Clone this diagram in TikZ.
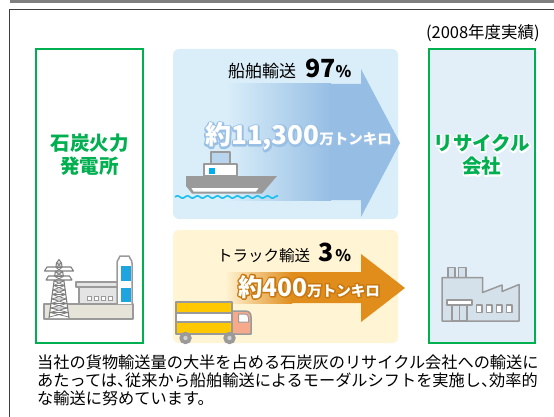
\documentclass[tikz,border=0pt]{standalone}
\usepackage{fontspec}
\setmainfont{Noto Sans CJK JP}
\usetikzlibrary{calc}

\definecolor{ruleGray}{HTML}{808080}
\definecolor{frameGray}{HTML}{404040}
\definecolor{siteGreen}{HTML}{00AF50}
\definecolor{siteFill}{HTML}{E2EEF8}
\definecolor{shipPanel}{HTML}{DAEEF9}
\definecolor{shipBlue}{HTML}{96BEE4}
\definecolor{truckPanel}{HTML}{FFF4D4}
\definecolor{truckOrange}{HTML}{E08D1C}
\definecolor{iconGray}{HTML}{9A9A9A}
\definecolor{pylonGray}{HTML}{7E7E7E}
\definecolor{bldGray}{HTML}{E4E4E4}
\definecolor{baseBeige}{HTML}{E6E3D8}
\definecolor{chimBlue}{HTML}{1EA5E0}
\definecolor{factFill}{HTML}{D4E1EB}
\definecolor{cabinBlue}{HTML}{B9D5EE}
\definecolor{windowCyan}{HTML}{00AEEF}
\definecolor{waveCyan}{HTML}{1CC0EE}
\definecolor{truckYellow}{HTML}{FFC800}
\definecolor{cabSalmon}{HTML}{F5AA8C}
\definecolor{wheelInner}{HTML}{D0D0D0}

% text with an outline: a stroked copy (rgb stroke colour #1, width #2)
% lies under the filled text
\newcommand\outlined[3]{%
  \rlap{\special{pdf:literal direct 1 j 1 J #2 w #1 RG 1 Tr}#3%
    \special{pdf:literal direct 0 Tr}}#3}

\tikzset{
  sitebox/.style={draw=siteGreen, line width=2pt, minimum width=106.5pt,
    minimum height=294.5pt, inner sep=0pt},
  panel/.style={rounded corners=6pt, minimum width=225pt, inner sep=0pt},
  sitelabel/.style={align=center, inner sep=0pt, text=siteGreen,
    font=\fontsize{19.5}{23}\selectfont\bfseries},
  modelabel/.style={anchor=base west, inner sep=0pt},
  amountlabel/.style={anchor=base west, inner sep=0pt, text=white},
  bodytext/.style={anchor=base west, inner sep=0pt,
    font=\fontsize{16.2}{18}\selectfont},
  iconline/.style={draw=iconGray, line width=1.5pt, line join=round},
  thinline/.style={draw=iconGray, line width=0.8pt},
  pylonline/.style={draw=pylonGray, line width=1.1pt, line join=round},
}

\newcommand\bigfig[1]{{\fontsize{25}{25}\selectfont\bfseries #1}}
\newcommand\pct{{\fontsize{16}{16}\selectfont\bfseries\%}}
\newcommand\halfcomma{\makebox[0.5em][l]{、}}

\begin{document}
\begin{tikzpicture}[x=1pt,y=-1pt]
\useasboundingbox (0,0) rectangle (554,417);
\fill[white] (0,0) rectangle (554,417);

% header rule and page frame
\fill[ruleGray] (10,0) rectangle (554,3);
\draw[frameGray, line width=1pt] (9.5,417) -- (9.5,10) -- (554,10);

\node[anchor=east, inner sep=0pt, font=\fontsize{16.5}{16.5}\selectfont] (year) at (540,33) {(2008年度実績)};

% the two sites
\node[sitebox, fill=white] (plant) at (89.5,195.8) {};
\node[sitebox, fill=siteFill] (recycler) at (481.8,195.8) {};
\node[sitelabel] (plantname) at (89.5,155) {石炭火力\\発電所};
\node[sitelabel] (recname) at (481.8,155)
  {\outlined{1 1 1}{3.2}{リサイクル}\\\outlined{1 1 1}{3.2}{会社}};

% ---------- sea transport ----------
\node[panel, fill=shipPanel, minimum height=170pt] (shippanel) at (285.5,134) {};
\shade[left color=shipPanel, right color=shipBlue] (225,84) rectangle (331,200);
\fill[shipBlue] (330,84) -- (361,84) -- (361,69) -- (400,143) -- (361,217)
  -- (361,200) -- (330,200) -- cycle;
\node[modelabel] (shipmode) at (228,78)
  {{\fontsize{17}{17}\selectfont 船舶輸送}\hspace{9pt}\bigfig{97}\pct};
\node[amountlabel] (shipamount) at (205,145)
  {\outlined{0.60 0.75 0.90}{3.4}{{\fontsize{26}{26}\selectfont\bfseries 約11,300}{\fontsize{14.5}{14.5}\selectfont\bfseries 万トンキロ}}};

% ship
\fill[iconGray] (186,176) -- (277,176) -- (262,193.5) -- (192,193.5) -- (186,186) -- cycle;
\fill[white] (191.5,188) -- (258.5,188) -- (256,191.5) -- (193.5,191.5) -- cycle;
\draw[iconline, fill=white] (204,164) rectangle (237,176);
\draw[iconline, fill=cabinBlue] (211,152) rectangle (230,164);
\fill[windowCyan] (208.5,168) rectangle (214.5,174);
\draw[waveCyan, line width=1.6pt] plot[domain=175:278, samples=120]
  (\x, {197+1.1*sin(36*\x)});

% ---------- road transport ----------
\node[panel, fill=truckPanel, minimum height=113pt] (truckpanel) at (285.5,286.5) {};
\shade[left color=truckPanel, right color=truckOrange] (225,272) rectangle (292,303);
\fill[truckOrange] (291,272) -- (361,272) -- (361,254) -- (405,288) -- (361,322)
  -- (361,303) -- (291,303) -- cycle;
\node[modelabel] (truckmode) at (217,261)
  {{\fontsize{15.5}{15.5}\selectfont トラック輸送}\hspace{8pt}\bigfig{3}\hspace{2pt}\pct};
\node[amountlabel] (truckamount) at (238,296)
  {\outlined{0.79 0.47 0.06}{3}{{\fontsize{24.5}{24.5}\selectfont\bfseries 約400}{\fontsize{14.5}{14.5}\selectfont\bfseries 万トンキロ}}};

% truck
\draw[iconline, fill=truckYellow] (176,302) rectangle (232,334);
\draw[iconline, fill=white] (176,313) rectangle (232,322);
\draw[iconline, fill=cabSalmon] (232,334) -- (232,311) -- (245,311)
  .. controls (249,311) and (251,313) .. (251,317) -- (251,334) -- cycle;
\draw[draw=iconGray, line width=1pt, fill=white] (238.5,314) -- (245,314)
  .. controls (247.5,314) and (248.5,315.5) .. (248.5,318) -- (248.5,322) -- (238.5,322) -- cycle;
\foreach \wx in {185.5,229.5}{
  \draw[iconline, fill=iconGray] (\wx,338) circle (5.5);
  \fill[wheelInner] (\wx,338) circle (2.2);
}

% ---------- power station ----------
\draw[iconline, fill=baseBeige] (44,304) rectangle (133,319);
\draw[iconline, fill=bldGray] (79,287) rectangle (122,304);
\draw[iconline, fill=bldGray] (76,282) rectangle (125,287);
\foreach \i in {0,1,2,3}
  \draw[thinline, fill=white] (87+\i*7,296) rectangle ++(4.2,4.2);
% chimney
\fill[white] (117,304) -- (117,263) .. controls (117,259) and (120,259) .. (120,256)
  -- (129,256) .. controls (129,259) and (132,259) .. (132,263) -- (132,304) -- cycle;
\fill[chimBlue] (121,266) rectangle (131.2,281);
\fill[chimBlue] (121,288) rectangle (131.2,302);
\draw[iconline] (117,304) -- (117,263) .. controls (117,259) and (120,259) .. (120,256)
  -- (129,256) .. controls (129,259) and (132,259) .. (132,263) -- (132,304);
% pylon
\fill[white] (56.5,263) -- (61.5,263) -- (69,318) -- (49,318) -- cycle;
\draw[pylonline] (59,259.5) -- (56.5,263) -- (49,318);
\draw[pylonline] (59,259.5) -- (61.5,263) -- (69,318);
\draw[pylonline, fill=white] (47,267) -- (71,267) -- (73.5,271) -- (44.5,271) -- cycle;
\draw[pylonline, fill=white] (48.5,276) -- (69.5,276) -- (72,280) -- (46,280) -- cycle;
\foreach \y in {263,267.5,...,313.5}{
  \pgfmathsetmacro\la{56.5-(\y-263)*7.5/55}
  \pgfmathsetmacro\ra{61.5+(\y-263)*7.5/55}
  \pgfmathsetmacro\lb{56.5-(\y+4.5-263)*7.5/55}
  \pgfmathsetmacro\rb{61.5+(\y+4.5-263)*7.5/55}
  \draw[pylonline, line width=0.75pt] (\la,\y) -- (\rb,\y+4.5) (\ra,\y) -- (\lb,\y+4.5)
    (\la,\y) -- (\ra,\y);
}

% ---------- recycling plant ----------
\draw[iconline, fill=factFill] (448,278) rectangle (455,267.5);
\draw[iconline, fill=factFill] (458.5,278) rectangle (466,267.5);
\draw[iconline, fill=factFill] (442,321) -- (442,277.5) -- (482.5,277.5) -- (482.5,292.5)
  -- (502,285) -- (502,291.5) -- (519,284.5) -- (519,321) -- cycle;
\draw[iconline, fill=white] (447,300) rectangle (472,305);
\draw[iconline, fill=factFill] (452,305) rectangle (467,321);
\draw[iconline] (459.5,305) -- (459.5,321);
\foreach \i in {0,1,2,3}
  \draw[iconline, fill=white] (476.5+\i*10,305) rectangle ++(5.5,7.5);

% ---------- note ----------
\node[bodytext] (note1) at (37,368) {当社の貨物輸送量の大半を占める石炭灰のリサイクル会社への輸送に};
\node[bodytext] (note2) at (37,386) {あたっては\halfcomma 従来から船舶輸送によるモーダルシフトを実施し\halfcomma 効率的};
\node[bodytext] (note3) at (37,404) {な輸送に努めています。};
\end{tikzpicture}
\end{document}
